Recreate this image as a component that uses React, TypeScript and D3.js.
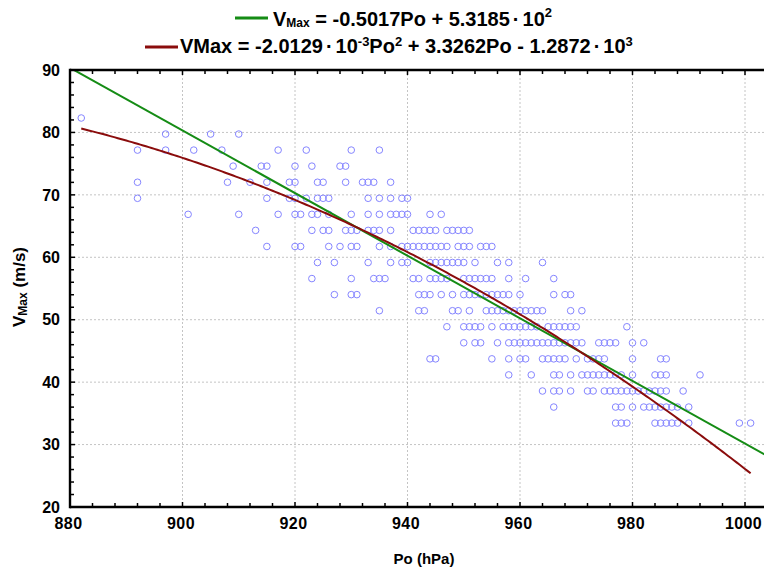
import React from 'react';
import * as d3 from 'd3';

// Vmax levels (m/s) observed (5-knot steps) and central pressures (hPa) recorded at each level
const level82_31 = [882];
const level79_74 = [897, 905, 910];
const level77_17 = [892, 897, 902, 907, 917, 922, 930, 935];
const level74_60 = [909, 914, 915, 920, 923, 928, 929];
const level72_02 = [892, 908, 912, 915, 919, 920, 924, 925, 929, 932, 933, 934, 937];
const level69_45 = [892, 915, 919, 920, 922, 924, 925, 926, 933, 935, 937, 939, 940];
const level66_88 = [901, 910, 917, 920, 921, 923, 924, 926, 930, 933, 935, 937, 938, 939, 940, 944, 946];
const level64_31 = [913, 923, 925, 926, 929, 930, 931, 933, 934, 935, 937, 941, 942, 943, 944, 945, 947, 948, 949, 950, 951];
const level61_73 = [915, 920, 921, 926, 928, 930, 931, 935, 937, 939, 940, 941, 942, 943, 944, 945, 946, 947, 949, 950, 951, 953, 954, 955];
const level59_16 = [924, 927, 933, 937, 939, 940, 944, 945, 946, 947, 948, 949, 950, 952, 956, 958, 964];
const level56_59 = [923, 930, 934, 935, 936, 941, 942, 944, 945, 946, 947, 950, 951, 952, 953, 954, 955, 958, 961, 966];
const level54_02 = [927, 930, 931, 942, 943, 944, 946, 948, 950, 951, 952, 953, 954, 955, 956, 957, 958, 960, 966, 968, 969];
const level51_44 = [935, 942, 943, 948, 949, 951, 954, 955, 956, 957, 958, 959, 960, 961, 962, 963, 964, 969, 971];
const level48_87 = [947, 950, 951, 952, 953, 955, 957, 958, 959, 960, 961, 962, 963, 965, 966, 967, 968, 969, 970, 979];
const level46_30 = [950, 952, 953, 956, 958, 959, 960, 961, 962, 963, 964, 965, 966, 967, 968, 969, 970, 971, 974, 975, 976, 977, 980, 982];
const level43_73 = [944, 945, 955, 958, 960, 961, 964, 965, 966, 967, 968, 970, 972, 973, 974, 975, 980, 985, 986];
const level41_16 = [958, 962, 966, 967, 969, 971, 972, 973, 974, 975, 976, 977, 978, 980, 984, 985, 986, 992];
const level38_58 = [964, 966, 967, 969, 972, 973, 975, 976, 977, 978, 979, 980, 981, 982, 983, 984, 985, 986, 989];
const level36_01 = [966, 977, 978, 980, 982, 983, 984, 985, 986, 987, 988, 990];
const level33_44 = [977, 978, 979, 984, 985, 986, 987, 988, 990, 999, 1001];

const vmaxValues = [82.31, 79.74, 77.17, 74.6, 72.02, 69.45, 66.88, 64.31, 61.73, 59.16, 56.59, 54.02, 51.44, 48.87, 46.3, 43.73, 41.16, 38.58, 36.01, 33.44];
const pressureLists = [
  level82_31, level79_74, level77_17, level74_60, level72_02, level69_45, level66_88,
  level64_31, level61_73, level59_16, level56_59, level54_02, level51_44, level48_87,
  level46_30, level43_73, level41_16, level38_58, level36_01, level33_44,
];

const xTicks = [880, 900, 920, 940, 960, 980, 1000];
const yTicks = [20, 30, 40, 50, 60, 70, 80, 90];

// Fit coefficients (from the legend)
const linA = -0.5017, linB = 531.85;
const quadA = -2.0129e-3, quadB = 3.3262, quadC = -1287.2;

const W = 764, H = 570;
const PL = 70, PT = 70, PB = 507, PR = 780;

const FONT = '"Liberation Sans", Arial, Helvetica, sans-serif';
const GREEN = '#158c15';
const RED = '#8a0c0c';

export default function App() {
  const x = d3.scaleLinear().domain([880, 1000]).range([PL, 745]);
  const y = d3.scaleLinear().domain([20, 90]).range([PB, PT]);

  const points: { p: number; v: number }[] = [];
  pressureLists.forEach((list, i) => list.forEach((p) => points.push({ p, v: vmaxValues[i] })));

  const allP = points.map((d) => d.p);
  const pMin = d3.min(allP) as number;
  const pMax = d3.max(allP) as number;

  const line = d3.line<number>().x((p) => x(p)).y((p) => y(linA * p + linB));
  const quad = d3.line<number>().x((p) => x(p)).y((p) => y(quadA * p * p + quadB * p + quadC));
  const quadPs = d3.range(pMin, pMax + 0.01, 0.5);

  const xMinor = d3.range(880, 1005, 4);
  const yMinor = d3.range(20, 90.01, 2);

  return (
    <svg width={W} height={H} style={{ position: 'absolute', left: 0, top: 0, background: '#fff' }} fontFamily={FONT}>
      <defs>
        <clipPath id="plotclip">
          <rect x={PL} y={PT} width={PR - PL} height={PB - PT} />
        </clipPath>
      </defs>
      <rect x={0} y={0} width={W} height={H} fill="#fff" />
      {/* grid */}
      {xTicks.filter((t) => t > 880).map((t) => (
        <line key={'gx' + t} x1={x(t)} x2={x(t)} y1={PT} y2={PB} stroke="#c4c4c4" strokeWidth={1} strokeDasharray="2,2" />
      ))}
      {yTicks.filter((t) => t > 20 && t < 90).map((t) => (
        <line key={'gy' + t} x1={PL} x2={W} y1={y(t)} y2={y(t)} stroke="#c4c4c4" strokeWidth={1} strokeDasharray="2,2" />
      ))}
      {/* points and fits */}
      <g clipPath="url(#plotclip)">
        {points.map((d, i) => (
          <circle key={i} cx={x(d.p)} cy={y(d.v)} r={3.3} fill="none" stroke="#8585ff" strokeWidth={1} />
        ))}
        <path d={line([880, 1010]) as string} fill="none" stroke={GREEN} strokeWidth={2} />
        <path d={quad(quadPs) as string} fill="none" stroke={RED} strokeWidth={2} />
      </g>
      {/* axes */}
      <line x1={PL} x2={W} y1={PB} y2={PB} stroke="#000" strokeWidth={2.6} />
      <line x1={PL} x2={W} y1={PT} y2={PT} stroke="#000" strokeWidth={2.6} />
      <line x1={PL} x2={PL} y1={PT - 1.3} y2={PB + 1.3} stroke="#000" strokeWidth={2.4} />
      {xMinor.map((t) => {
        const major = t % 20 === 0;
        const len = major ? 5 : 4;
        return (
          <g key={'xt' + t}>
            <line x1={x(t)} x2={x(t)} y1={PB} y2={PB - len} stroke="#000" strokeWidth={1.5} />
            <line x1={x(t)} x2={x(t)} y1={PT} y2={PT + len} stroke="#000" strokeWidth={1.5} />
          </g>
        );
      })}
      {yMinor.map((t) => {
        const major = t % 10 === 0;
        const len = major ? 5 : 4;
        return <line key={'yt' + t} x1={PL} x2={PL + len} y1={y(t)} y2={y(t)} stroke="#000" strokeWidth={1.5} />;
      })}
      {xTicks.map((t) => (
        <text key={'xl' + t} x={x(t) - 1.5} y={529} textAnchor="middle" fontSize={16} fontWeight="bold" letterSpacing={0.4}>{t}</text>
      ))}
      {yTicks.map((t) => (
        <text key={'yl' + t} x={60} y={y(t) + 5.7} textAnchor="end" fontSize={16} fontWeight="bold">{t}</text>
      ))}
      <text x={424} y={564} textAnchor="middle" fontSize={15} fontWeight="bold">Po (hPa)</text>
      <text transform="translate(25,287) rotate(-90)" textAnchor="middle" fontSize={17} fontWeight="bold">
        V<tspan fontSize={12} dy={2}>Max</tspan><tspan dy={-2}> (m/s)</tspan>
      </text>
      {/* legend */}
      <line x1={235} x2={268} y1={18} y2={18} stroke={GREEN} strokeWidth={3} />
      <text x={273} y={26} fontSize={20} fontWeight="bold">
        V<tspan fontSize={12} dy={1}>Max</tspan><tspan dy={-1}> = -0.5017Po + 5.3185</tspan><tspan dx={3}>·</tspan><tspan dx={3}>10</tspan><tspan fontSize={13} dy={-9}>2</tspan>
      </text>
      <line x1={145} x2={178} y1={47} y2={47} stroke={RED} strokeWidth={3} />
      <text x={180} y={53} fontSize={20} fontWeight="bold">
        VMax = -2.0129<tspan dx={3}>·</tspan><tspan dx={3}>10</tspan><tspan fontSize={13} dy={-7}>-3</tspan><tspan dy={7}>Po</tspan><tspan fontSize={13} dy={-7}>2</tspan><tspan dy={7}> + 3.3262Po - 1.2872</tspan><tspan dx={3}>·</tspan><tspan dx={3}>10</tspan><tspan fontSize={13} dy={-7}>3</tspan>
      </text>
    </svg>
  );
}
